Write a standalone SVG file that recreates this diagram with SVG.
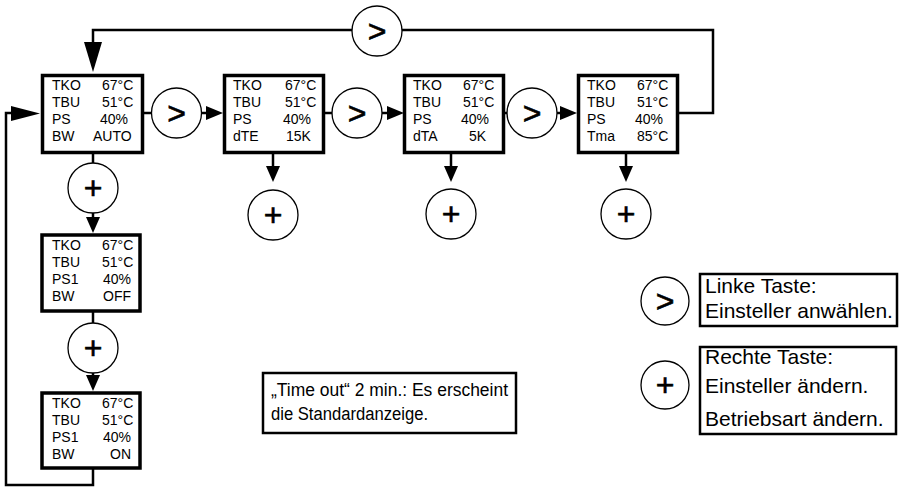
<svg xmlns="http://www.w3.org/2000/svg" width="899" height="488" viewBox="0 0 899 488">
<style>
.box{fill:#fff;stroke:#000;stroke-width:3.5}
.lbox{fill:#fff;stroke:#000;stroke-width:2.5}
.c{fill:#fff;stroke:#000;stroke-width:1.3}
.ln{fill:none;stroke:#000;stroke-width:2.5}
.t{font-family:"Liberation Sans",Arial,sans-serif;font-size:14px;fill:#000}
.sym{font-family:"Liberation Sans",Arial,sans-serif;font-size:32px;fill:#000;text-anchor:middle;stroke:#000;stroke-width:0.6}
.lg{font-family:"Liberation Sans",Arial,sans-serif;font-size:21px;fill:#000}
.to{font-family:"Liberation Sans",Arial,sans-serif;font-size:18px;fill:#000}
</style>
<rect width="899" height="488" fill="#fff"/>
<g id="connectors">
<path class="ln" d="M143,113 H152"/>
<path class="ln" d="M201,113 H207"/>
<polygon points="206,106 223,113 206,120"/>
<path class="ln" d="M325,113 H333"/>
<path class="ln" d="M382,113 H388"/>
<polygon points="387,106 404,113 387,120"/>
<path class="ln" d="M505,113 H508"/>
<path class="ln" d="M557,113 H561"/>
<polygon points="560,106 577,113 560,120"/>
<path class="ln" d="M679,113 H713 V30 H402"/>
<path class="ln" d="M352,30 H93 V44"/>
<polygon points="84,42 102,42 93,72"/>
<path class="ln" d="M93,154 V164"/>
<path class="ln" d="M93,213 V219"/>
<polygon points="86,217 100,217 93,233"/>
<path class="ln" d="M93,312 V323"/>
<path class="ln" d="M93,373 V377"/>
<polygon points="86,375 100,375 93,391"/>
<path class="ln" d="M93,469 V485 H6 V113 H14"/>
<polygon points="11,106 11,121 40,113.5"/>
<path class="ln" d="M273,154 V168"/>
<polygon points="266,166 280,166 273,182"/>
<path class="ln" d="M451,154 V168"/>
<polygon points="444,166 458,166 451,182"/>
<path class="ln" d="M626,154 V168"/>
<polygon points="619,166 633,166 626,182"/>
</g>
<g id="box1">
<rect class="box" x="42.5" y="75.5" width="100" height="77"/>
<text class="t" x="52" y="90">TKO</text><text class="t" x="102" y="90">67°C</text>
<text class="t" x="52" y="107">TBU</text><text class="t" x="102" y="107">51°C</text>
<text class="t" x="52" y="124">PS</text><text class="t" x="100" y="124">40%</text>
<text class="t" x="52" y="141">BW</text><text class="t" x="93" y="141">AUTO</text>
</g>
<g id="box2">
<rect class="box" x="224.5" y="75.5" width="99" height="77"/>
<text class="t" x="233" y="90">TKO</text><text class="t" x="285" y="90">67°C</text>
<text class="t" x="233" y="107">TBU</text><text class="t" x="285" y="107">51°C</text>
<text class="t" x="233" y="124">PS</text><text class="t" x="283" y="124">40%</text>
<text class="t" x="233" y="141">dTE</text><text class="t" x="286" y="141">15K</text>
</g>
<g id="box3">
<rect class="box" x="404.5" y="75.5" width="99" height="77"/>
<text class="t" x="413" y="90">TKO</text><text class="t" x="463" y="90">67°C</text>
<text class="t" x="413" y="107">TBU</text><text class="t" x="463" y="107">51°C</text>
<text class="t" x="413" y="124">PS</text><text class="t" x="461" y="124">40%</text>
<text class="t" x="413" y="141">dTA</text><text class="t" x="469" y="141">5K</text>
</g>
<g id="box4">
<rect class="box" x="578.5" y="75.5" width="99" height="77"/>
<text class="t" x="587" y="90">TKO</text><text class="t" x="637" y="90">67°C</text>
<text class="t" x="587" y="107">TBU</text><text class="t" x="637" y="107">51°C</text>
<text class="t" x="587" y="124">PS</text><text class="t" x="635" y="124">40%</text>
<text class="t" x="587" y="141">Tma</text><text class="t" x="637" y="141">85°C</text>
</g>
<g id="box5">
<rect class="box" x="42" y="235" width="98" height="76"/>
<text class="t" x="52" y="250">TKO</text><text class="t" x="102" y="250">67°C</text>
<text class="t" x="52" y="267">TBU</text><text class="t" x="102" y="267">51°C</text>
<text class="t" x="52" y="284">PS1</text><text class="t" x="103" y="284">40%</text>
<text class="t" x="52" y="301">BW</text><text class="t" x="103" y="301">OFF</text>
</g>
<g id="box6">
<rect class="box" x="42" y="393" width="98" height="75"/>
<text class="t" x="52" y="408">TKO</text><text class="t" x="102" y="408">67°C</text>
<text class="t" x="52" y="425">TBU</text><text class="t" x="102" y="425">51°C</text>
<text class="t" x="52" y="442">PS1</text><text class="t" x="103" y="442">40%</text>
<text class="t" x="52" y="459">BW</text><text class="t" x="110" y="459">ON</text>
</g>
<g id="key1"><circle class="c" cx="176.5" cy="113" r="25"/><text class="sym" x="176.5" y="124">&gt;</text></g>
<g id="key2"><circle class="c" cx="357" cy="113" r="25"/><text class="sym" x="357" y="124">&gt;</text></g>
<g id="key3"><circle class="c" cx="532" cy="113" r="25"/><text class="sym" x="532" y="124">&gt;</text></g>
<g id="key4"><circle class="c" cx="377" cy="31" r="25"/><text class="sym" x="377" y="42">&gt;</text></g>
<g id="plus1"><circle class="c" cx="93" cy="188" r="25"/><text class="sym" x="93" y="199">+</text></g>
<g id="plus2"><circle class="c" cx="93" cy="348" r="25"/><text class="sym" x="93" y="359">+</text></g>
<g id="plus3"><circle class="c" cx="273" cy="215" r="25"/><text class="sym" x="273" y="226">+</text></g>
<g id="plus4"><circle class="c" cx="451" cy="214" r="25"/><text class="sym" x="451" y="225">+</text></g>
<g id="plus5"><circle class="c" cx="626" cy="214" r="25"/><text class="sym" x="626" y="225">+</text></g>
<g id="timeout">
<rect class="lbox" x="263" y="373" width="253" height="60"/>
<text class="to" x="271" y="396" textLength="237" lengthAdjust="spacingAndGlyphs">„Time out“ 2 min.: Es erscheint</text>
<text class="to" x="271" y="420" textLength="157" lengthAdjust="spacingAndGlyphs">die Standardanzeige.</text>
</g>
<g id="legend1">
<ellipse class="c" cx="665" cy="301" rx="24" ry="24"/><text class="sym" x="665" y="312">&gt;</text>
<rect class="lbox" x="700" y="274" width="197" height="52"/>
<text class="lg" x="705" y="293">Linke Taste:</text>
<text class="lg" x="705" y="318">Einsteller anwählen.</text>
</g>
<g id="legend2">
<ellipse class="c" cx="665" cy="385" rx="24" ry="24"/><text class="sym" x="665" y="396">+</text>
<rect class="lbox" x="700" y="347" width="196" height="87"/>
<text class="lg" x="705" y="364">Rechte Taste:</text>
<text class="lg" x="705" y="393">Einsteller ändern.</text>
<text class="lg" x="705" y="426">Betriebsart ändern.</text>
</g>
</svg>
